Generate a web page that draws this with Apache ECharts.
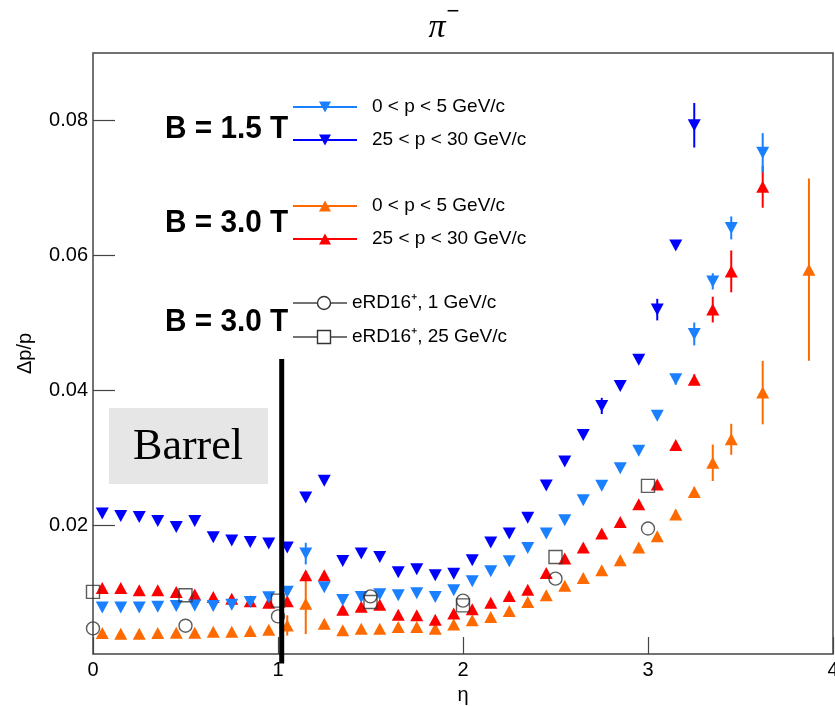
<!DOCTYPE html>
<html>
<head>
<meta charset="utf-8">
<script src="https://cdn.jsdelivr.net/npm/echarts@6/dist/echarts.min.js"></script>
<style>html,body{margin:0;padding:0;background:#fff}#c{width:835px;height:706px}</style>
</head>
<body>
<div id="c"></div>
<script>
// ---------- data ----------
const yTicks = [0.02, 0.04, 0.06, 0.08];
const xTicksInterval = 1;

// B = 1.5 T, 25 < p < 30 GeV/c (dark blue, down triangles)
const etaDark = [0.05,0.15,0.25,0.35,0.45,0.55,0.65,0.75,0.85,0.95,1.05,1.15,1.25,1.35,1.45,1.55,1.65,1.75,1.85,1.95,2.05,2.15,2.25,2.35,2.45,2.55,2.65,2.75,2.85,2.95,3.05,3.15,3.25];
const valDark = [0.0218,0.02145,0.0213,0.0207,0.0198,0.0207,0.0183,0.0178,0.0176,0.01736,0.01676,0.02418,0.02665,0.01478,0.01587,0.01537,0.0131,0.01355,0.01265,0.0129,0.01488,0.0175,0.01884,0.02116,0.02597,0.0295,0.03343,0.03773,0.0407,0.04456,0.052,0.06148,0.0793];
const errDark = [0,0,0,0,0,0,0,0,0,0, 0,0,0,0,0,0,0,0,0,0, 0,0,0,0,0,0,0,0.0012,0.0005,0.0004, 0.0016,0.0004,0.0033];

// B = 1.5 T, 0 < p < 5 GeV/c (light blue, down triangles)
const etaLight = [0.05,0.15,0.25,0.35,0.45,0.55,0.65,0.75,0.85,0.95,1.05,1.15,1.25,1.35,1.45,1.55,1.65,1.75,1.85,1.95,2.05,2.15,2.25,2.35,2.45,2.55,2.65,2.75,2.85,2.95,3.05,3.15,3.25,3.35,3.45,3.62];
const valLight = [0.0079,0.0079,0.0079,0.0080,0.0081,0.0082,0.0081,0.0083,0.0087,0.0094,0.0102,0.01587,0.0109,0.0090,0.00944,0.00983,0.0097,0.0100,0.00944,0.01043,0.01176,0.01325,0.01473,0.0167,0.01884,0.0208,0.02378,0.0259,0.02849,0.0311,0.0363,0.0417,0.0484,0.05618,0.0641,0.07523];
const errLight = [0,0,0,0,0,0,0,0,0,0, 0,0.0016,0,0,0,0,0,0,0,0, 0,0,0,0,0,0,0,0,0,0, 0.0005,0.0008,0.0017,0.0012,0.0017,0.0029];

// B = 3.0 T, 25 < p < 30 GeV/c (red, up triangles)
const etaRed = [0.05,0.15,0.25,0.35,0.45,0.55,0.65,0.75,0.85,0.95,1.05,1.15,1.25,1.35,1.45,1.55,1.65,1.75,1.85,1.95,2.05,2.15,2.25,2.35,2.45,2.55,2.65,2.75,2.85,2.95,3.05,3.15,3.25,3.35,3.45,3.62];
const valRed = [0.01077,0.01077,0.01043,0.01043,0.01018,0.0098,0.00943,0.0092,0.0088,0.0086,0.0088,0.01265,0.01265,0.00756,0.0080,0.0083,0.00682,0.00672,0.00608,0.0070,0.00761,0.0086,0.00958,0.01053,0.013,0.01513,0.01676,0.01884,0.02056,0.02319,0.02611,0.03195,0.0416,0.052,0.05766,0.07019];
const errRed = [0,0,0,0,0,0,0,0,0,0, 0,0,0,0,0,0,0,0,0,0, 0,0,0,0,0,0,0,0,0,0, 0,0.0004,0.0008,0.0019,0.0031,0.0031];

// B = 3.0 T, 0 < p < 5 GeV/c (orange, up triangles)
const etaOrange = [0.05,0.15,0.25,0.35,0.45,0.55,0.65,0.75,0.85,0.95,1.05,1.15,1.25,1.35,1.45,1.55,1.65,1.75,1.85,1.95,2.05,2.15,2.25,2.35,2.45,2.55,2.65,2.75,2.85,2.95,3.05,3.15,3.25,3.35,3.45,3.62,3.87];
const valOrange = [0.0041,0.0040,0.0040,0.0041,0.00415,0.00415,0.0043,0.0043,0.0044,0.0046,0.00523,0.00845,0.00549,0.0045,0.00474,0.00474,0.0050,0.0050,0.00474,0.00538,0.00598,0.00647,0.00736,0.0087,0.00969,0.0111,0.01225,0.0134,0.01488,0.01676,0.01844,0.02166,0.025,0.02932,0.03279,0.03971,0.05792];
const errOrange = [0,0,0,0,0,0,0,0,0,0, 0.0015,0.0045,0,0,0,0,0,0,0,0, 0,0,0,0,0,0,0,0,0,0, 0.0003,0.0007,0.0007,0.0027,0.0023,0.0047,0.0135];

// eRD16+ reference points (B = 3.0 T)
const etaERD = [0, 0.5, 1.0, 1.5, 2.0, 2.5, 3.0];
const valERD1 = [0.00479,0.00519,0.00657,0.00954,0.0089,0.01216,0.01958];
const valERD25 = [0.0102,0.00969,0.0089,0.0087,0.0082,0.01537,0.0259];

// barrel boundary line
const barrelEta = 1.02;
const barrelTop = 0.0447;
const barrelBottom = -0.0004;

const legendNames = ['0 < p < 5 GeV/c','25 < p < 30 GeV/c','0 < p < 5 GeV/c','25 < p < 30 GeV/c','eRD16\u207A, 1 GeV/c','eRD16\u207A, 25 GeV/c'];
const fieldLabels = ['B = 1.5 T','B = 3.0 T','B = 3.0 T'];

// ---------- chart ----------
const C_LIGHT = '#1a80ff', C_DARK = '#0000ff', C_RED = '#ff0000', C_ORANGE = '#ff6a00', C_GRAY = '#333333';
const pairs = (xs, ys) => xs.map((x, i) => [x, ys[i]]);
const triples = (xs, ys, es) => xs.map((x, i) => [x, ys[i], es[i]]);

function errSeries(xs, ys, es, color) {
  return {
    type: 'custom', z: 2, silent: true, clip: false,
    encode: { x: 0, y: 1 },
    data: triples(xs, ys, es),
    renderItem: function (params, api) {
      const x = api.value(0), y = api.value(1), e = api.value(2);
      if (!e) return null;
      const a = api.coord([x, y - e]), b = api.coord([x, y + e]);
      return { type: 'line', shape: { x1: a[0], y1: a[1], x2: b[0], y2: b[1] }, style: { stroke: color, lineWidth: 2 } };
    }
  };
}
function markerSeries(xs, ys, color, down) {
  return {
    type: 'scatter', z: 3, clip: false, silent: true,
    symbol: 'triangle', symbolSize: [13, 12], symbolRotate: down ? 180 : 0,
    itemStyle: { color: color, opacity: 1 },
    data: pairs(xs, ys)
  };
}
function openSeries(xs, ys, sym) {
  return {
    type: 'scatter', z: 4, clip: false, silent: true,
    symbol: sym, symbolSize: 13,
    itemStyle: { color: 'rgba(0,0,0,0)', borderColor: C_GRAY, borderWidth: 1.4 },
    data: pairs(xs, ys)
  };
}

const FONT = 'Liberation Sans, Arial, sans-serif';
const legendRows = [107, 140, 206, 239, 303, 337];
const legendColors = [C_LIGHT, C_DARK, C_ORANGE, C_RED, '#444', '#444'];
const graphics = [];
// Barrel box
graphics.push({ type: 'rect', left: 109, top: 408, shape: { width: 159, height: 76 }, style: { fill: '#e6e6e6' }, z: 1 });
graphics.push({ type: 'text', x: 188, y: 447, style: { text: 'Barrel', font: '44px "Liberation Serif", "Times New Roman", serif', fill: '#000', align: 'center', verticalAlign: 'middle' }, z: 2 });
// title
graphics.push({ type: 'text', x: 437, y: 28, style: { text: '\u03C0', font: 'italic 34px "Liberation Serif", serif', fill: '#000', align: 'center', verticalAlign: 'middle' } });
graphics.push({ type: 'text', x: 453, y: 12, style: { text: '\u2212', font: '22px "Liberation Sans", sans-serif', fill: '#000', align: 'center', verticalAlign: 'middle' } });
// field labels
[129, 223, 322].forEach((yy, i) => {
  graphics.push({ type: 'text', x: 165, y: yy, scaleX: 0.96, style: { text: fieldLabels[i], font: 'bold 31px ' + FONT, fill: '#000', align: 'left', verticalAlign: 'middle' } });
});
// legend entries
legendRows.forEach((yy, i) => {
  const isERD = i >= 4;
  const x2 = isERD ? 347 : 357;
  graphics.push({ type: 'line', shape: { x1: 293, y1: yy, x2: x2, y2: yy }, style: { stroke: legendColors[i], lineWidth: isERD ? 1.5 : 2 }, z: 5 });
  if (i < 2) {
    graphics.push({ type: 'polygon', shape: { points: [[319, yy - 5.5], [331, yy - 5.5], [325, yy + 5.5]] }, style: { fill: legendColors[i] }, z: 6 });
  } else if (i < 4) {
    graphics.push({ type: 'polygon', shape: { points: [[319, yy + 5.5], [331, yy + 5.5], [325, yy - 5.5]] }, style: { fill: legendColors[i] }, z: 6 });
  } else if (i === 4) {
    graphics.push({ type: 'circle', shape: { cx: 324, cy: yy, r: 6.5 }, style: { fill: '#fff', stroke: C_GRAY, lineWidth: 1.4 }, z: 6 });
  } else {
    graphics.push({ type: 'rect', shape: { x: 317.5, y: yy - 6.5, width: 13, height: 13 }, style: { fill: '#fff', stroke: C_GRAY, lineWidth: 1.4 }, z: 6 });
  }
  graphics.push({ type: 'text', x: isERD ? 352 : 372, y: yy, style: { text: legendNames[i], font: '19px ' + FONT, fill: '#000', align: 'left', verticalAlign: 'middle' }, z: 6 });
});

const chart = echarts.init(document.getElementById('c'), null, { renderer: 'canvas' });
chart.setOption({
  animation: false,
  backgroundColor: '#fff',
  grid: { left: 93, right: 2, top: 53, bottom: 52, outerBoundsMode: 'none', containLabel: false, show: true, borderColor: '#444', borderWidth: 1.5, backgroundColor: 'rgba(0,0,0,0)' },
  xAxis: {
    type: 'value', min: 0, max: 4, interval: xTicksInterval,
    axisLine: { show: false },
    axisTick: { inside: true, length: 17, lineStyle: { color: '#444', width: 1.2 } },
    axisLabel: { fontSize: 20, color: '#000', margin: 6, fontFamily: FONT, showMaxLabel: true, showMinLabel: true },
    splitLine: { show: false },
    name: '\u03B7', nameLocation: 'middle', nameGap: 31,
    nameTextStyle: { fontSize: 20, color: '#000', fontFamily: FONT }
  },
  yAxis: {
    type: 'value', min: 0.001, max: 0.09,
    axisLine: { show: false },
    axisTick: { inside: true, length: 22, customValues: yTicks, lineStyle: { color: '#444', width: 1.2 } },
    axisLabel: { fontSize: 20, color: '#000', margin: 5, fontFamily: FONT, customValues: yTicks, formatter: v => v.toFixed(2) },
    splitLine: { show: false },
    name: '\u0394p/p', nameLocation: 'middle', nameGap: 58, nameRotate: 90,
    nameTextStyle: { fontSize: 20, color: '#000', fontFamily: FONT }
  },
  graphic: graphics,
  series: [
    errSeries(etaOrange, valOrange, errOrange, C_ORANGE),
    errSeries(etaRed, valRed, errRed, C_RED),
    errSeries(etaLight, valLight, errLight, C_LIGHT),
    errSeries(etaDark, valDark, errDark, C_DARK),
    markerSeries(etaOrange, valOrange, C_ORANGE, false),
    markerSeries(etaRed, valRed, C_RED, false),
    markerSeries(etaLight, valLight, C_LIGHT, true),
    markerSeries(etaDark, valDark, C_DARK, true),
    openSeries(etaERD, valERD1, 'circle'),
    openSeries(etaERD, valERD25, 'rect'),
    {
      type: 'line', z: 6, clip: false, silent: true, symbol: 'none',
      lineStyle: { color: '#000', width: 5 },
      data: [[barrelEta, barrelTop], [barrelEta, barrelBottom]]
    }
  ]
});
</script>
</body>
</html>
